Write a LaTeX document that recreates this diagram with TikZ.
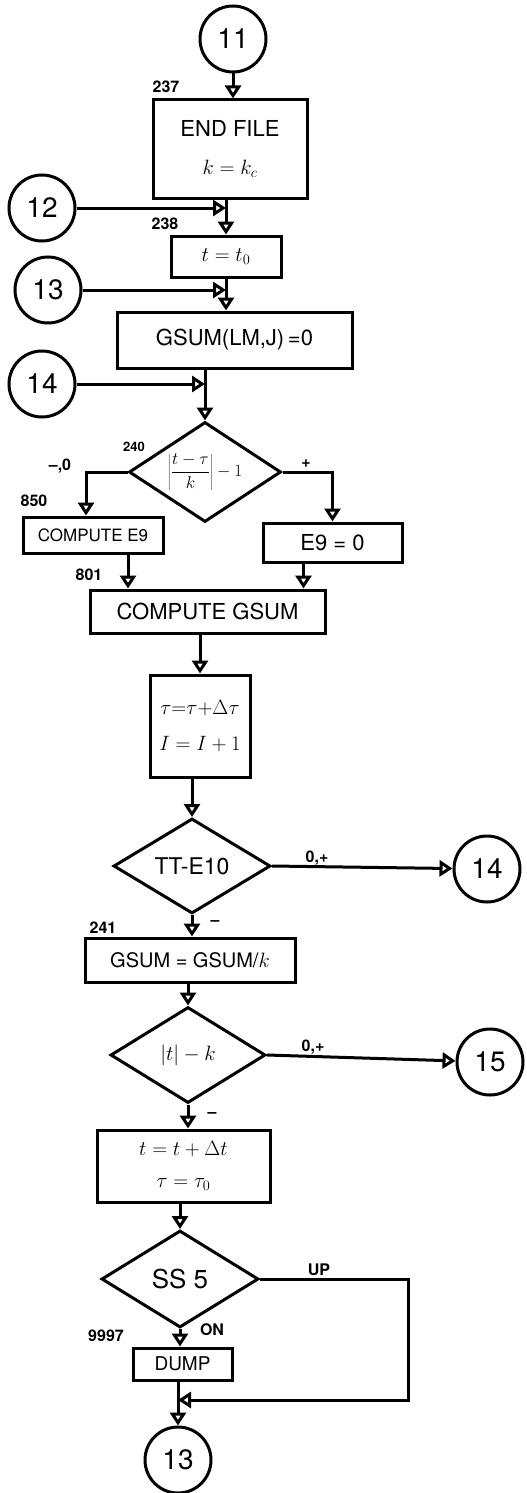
\documentclass[tikz,border=0pt]{standalone}
\usepackage{fontspec}
\setmainfont{TeX Gyre Heros}
\usetikzlibrary{arrows.meta,shapes.geometric}
\tikzset{
  box/.style={draw, rectangle, line width=3pt, inner sep=0pt, align=center, font=\fontsize{22}{26}\selectfont},
  dec/.style={draw, diamond, line width=3pt, inner sep=0pt, aspect=1.5, align=center, font=\fontsize{22}{26}\selectfont},
  conn/.style={draw, circle, line width=3pt, minimum size=66pt, inner sep=0pt, font=\fontsize{28}{28}\selectfont},
  lab/.style={inner sep=0pt, font=\fontsize{16}{16}\selectfont\bfseries},
  flow/.style={line width=3pt, -{Triangle[open,length=13pt,width=16pt]}}
}
\begin{document}
\begin{tikzpicture}[x=1pt,y=-1pt]
\path[use as bounding box, fill=white] (0,0) rectangle (527,1493);

% nodes
\node[conn] (c11) at (233,39) {11};
\node[box, minimum width=154pt, minimum height=98pt] (b237) at (230,149) {END FILE\\[12pt]$k=k_c$};
\node[conn] (c12) at (42,208) {12};
\node[box, minimum width=110pt, minimum height=41pt] (b238) at (226,256.5) {$t=t_0$};
\node[conn] (c13a) at (48,290) {13};
\node[box, minimum width=235pt, minimum height=56pt] (bG0) at (234.5,340) {GSUM(LM,J)\,=0};
\node[conn] (c14a) at (42,384) {14};
\node[dec, minimum width=152pt, minimum height=100pt, font=\fontsize{17}{20}\selectfont] (d240) at (205,472) {$\displaystyle\left|\frac{t-\tau}{k}\right|-1$};
\node[box, minimum width=140pt, minimum height=36pt, font=\fontsize{17}{20}\selectfont] (bCE9) at (93,535) {COMPUTE E9};
\node[box, minimum width=139pt, minimum height=39pt] (bE90) at (332.5,542.5) {E9 = 0};
\node[box, minimum width=235pt, minimum height=43pt] (bCG) at (207.5,611.5) {COMPUTE GSUM};
\node[box, minimum width=100pt, minimum height=102pt] (btau) at (200,726) {$\tau{=}\tau{+}\Delta\tau$\\[10pt]$I=I+1$};
\node[dec, minimum width=157pt, minimum height=95pt, font=\fontsize{23}{26}\selectfont] (d2) at (192,866) {TT-E10};
\node[conn] (c14b) at (487,869) {14};
\node[box, minimum width=210pt, minimum height=44pt, font=\fontsize{20}{24}\selectfont] (bGk) at (190,960) {GSUM = GSUM/$k$};
\node[dec, minimum width=155pt, minimum height=96pt] (d3) at (188,1055) {$|t|-k$};
\node[conn] (c15) at (490,1062) {15};
\node[box, minimum width=173pt, minimum height=72pt] (bt) at (183.5,1166) {$t=t+\Delta t$\\[6pt]$\tau=\tau_0$};
\node[dec, minimum width=157pt, minimum height=97pt, font=\fontsize{26}{28}\selectfont] (d4) at (180,1279) {SS 5};
\node[box, minimum width=99pt, minimum height=32pt, font=\fontsize{19}{22}\selectfont] (bD) at (182.5,1364) {DUMP};
\node[conn] (c13b) at (178,1460) {13};
\coordinate (lp) at (408,1400);

% connectors
\draw[flow] (c11) -- (c11 |- b237.north);
\draw[flow] (b238.north |- b237.south) -- (b238.north);
\draw[flow] (c12) -- (c12 -| b238.north);
\draw[flow] (b238.south) -- (b238.south |- bG0.north);
\draw[flow] (c13a) -- (c13a -| b238.south);
\draw[flow] (bG0.south -| d240.north) -- (d240.north);
\draw[flow] (c14a) -- (c14a -| d240.north);
\draw[flow] (d240.west) -| ([xshift=-7pt]bCE9.north);
\draw[flow] (d240.east) -| (bE90.north);
\draw[flow] ([xshift=35pt]bCE9.south) -- ([xshift=35pt]bCE9.south |- bCG.north);
\draw[flow] ([xshift=-29pt]bE90.south) -- ([xshift=-29pt]bE90.south |- bCG.north);
\draw[flow] (btau.north |- bCG.south) -- (btau.north);
\draw[flow] (btau.south -| d2.north) -- (d2.north);
\draw[flow] (d2.east) -- (c14b);
\draw[flow] (d2.south) -- (d2.south |- bGk.north);
\draw[flow] (bGk.south -| d3.north) -- (d3.north);
\draw[flow] (d3.east) -- (c15);
\draw[flow] (d3.south) -- (d3.south |- bt.north);
\draw[flow] (bt.south -| d4.north) -- (d4.north);
\draw[flow] (d4.south) -- (d4.south |- bD.north);
\draw[flow] (bD.south -| c13b.north) -- (c13b.north);
\draw[flow] (d4.east) -| (lp) -- (lp -| c13b.north);

% labels
\node[lab] (l237) at (166,87) {237};
\node[lab] (l238) at (165,224) {238};
\node[lab, font=\fontsize{13}{13}\selectfont\bfseries] (l240) at (134,447) {240};
\node[lab] (lm0) at (60,466) {\textendash,0};
\node[lab] (l850) at (34,501) {850};
\node[lab] (lplus) at (306,464) {+};
\node[lab] (l801) at (89,575) {801};
\node[lab] (l0p1) at (317,858) {0,+};
\node[lab] (lm1) at (215,923) {\textendash};
\node[lab] (l241) at (103,928) {241};
\node[lab] (l0p2) at (313,1047) {0,+};
\node[lab] (lm2) at (212,1115) {\textendash};
\node[lab] (lup) at (319,1270) {UP};
\node[lab] (lon) at (212,1330) {ON};
\node[lab] (l9997) at (106,1336) {9997};
\end{tikzpicture}
\end{document}
